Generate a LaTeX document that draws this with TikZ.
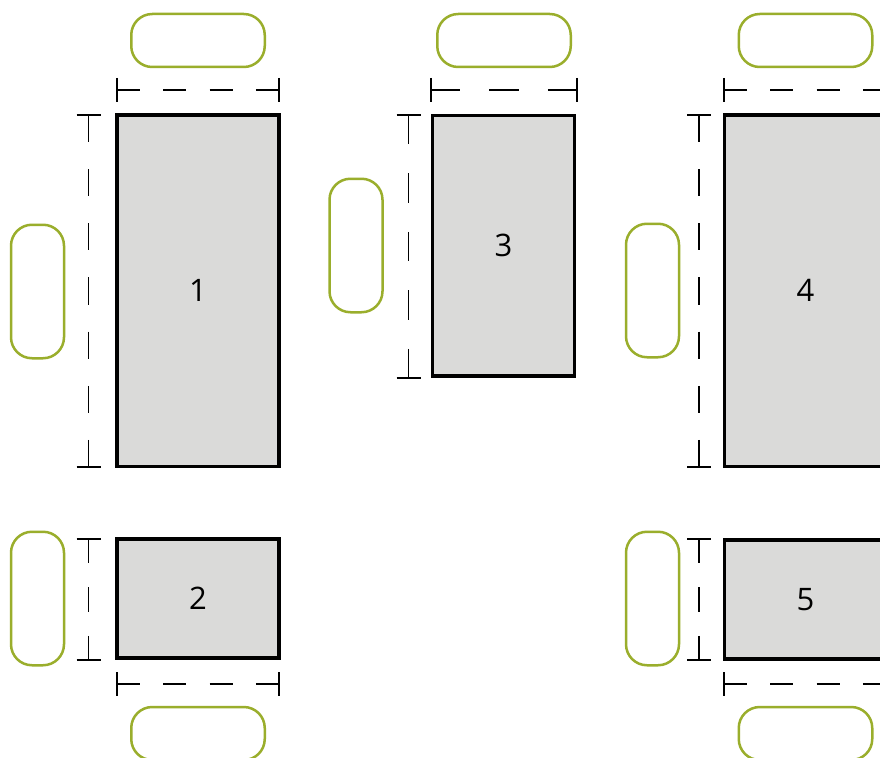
\documentclass[tikz,border=0pt]{standalone}
\usepackage{fontspec}
\setmainfont{Open Sans}
\definecolor{pillgreen}{HTML}{9AAE2C}
\definecolor{roomgrey}{HTML}{DADAD9}
\tikzset{
  room/.style={draw=black,fill=roomgrey,line width=3.6pt,inner sep=0pt,outer sep=0pt,font=\fontsize{31}{31}\selectfont,text=black},
  pill/.style={draw=pillgreen,fill=white,line width=2.5pt,rounded corners=21pt,inner sep=0pt,outer sep=0pt},
  pillh/.style={pill,minimum width=133.5pt,minimum height=53pt},
  pillv/.style={pill,minimum width=53pt,minimum height=133.5pt},
  dimline/.style={draw=black,line width=1.1pt},
  tick/.style={draw=black,line width=1.1pt}
}
% name, x1, x2, y, segment length
\newcommand{\hdim}[5]{%
  \coordinate (#1a) at (#2,#4);\coordinate (#1b) at (#3,#4);
  \coordinate (#1at) at (#2,#4-12);\coordinate (#1ab) at (#2,#4+12);
  \coordinate (#1bt) at (#3,#4-12);\coordinate (#1bb) at (#3,#4+12);
  \draw[dimline,dash pattern=on #5pt off #5pt] (#1a) -- (#1b);
  \draw[tick] (#1at) -- (#1ab);
  \draw[tick] (#1bt) -- (#1bb);}
% name, y1, y2, x, segment length
\newcommand{\vdim}[5]{%
  \coordinate (#1a) at (#4,#2);\coordinate (#1b) at (#4,#3);
  \coordinate (#1al) at (#4-12,#2);\coordinate (#1ar) at (#4+12,#2);
  \coordinate (#1bl) at (#4-12,#3);\coordinate (#1br) at (#4+12,#3);
  \draw[dimline,dash pattern=on #5pt off #5pt] (#1a) -- (#1b);
  \draw[tick] (#1al) -- (#1ar);
  \draw[tick] (#1bl) -- (#1br);}
\begin{document}
\begin{tikzpicture}[x=1pt,y=-1pt]
\useasboundingbox (0,0) rectangle (880,757);
\clip (0,0) rectangle (880,757);
\fill[white] (0,0) rectangle (880,757);
% rooms
\node[room,minimum width=161.5pt,minimum height=351.5pt] (r1) at (198,290.75) {\raisebox{1.5pt}{1}};
\node[room,minimum width=161.5pt,minimum height=119pt] (r2) at (198,598.5) {2};
\node[room,minimum width=142pt,minimum height=260.5pt] (r3) at (503.5,245.75) {3};
\node[room,minimum width=162pt,minimum height=351.5pt] (r4) at (805.5,290.75) {\raisebox{1.5pt}{4}};
\node[room,minimum width=162pt,minimum height=119pt] (r5) at (805.5,599.25) {5};
% pills
\node[pillh] (p1t) at (198,40.5) {};
\node[pillv] (p1l) at (37.5,291.5) {};
\node[pillv] (p2l) at (37.5,598.5) {};
\node[pillh] (p2b) at (198,733.5) {};
\node[pillh] (p3t) at (504,40.5) {};
\node[pillv] (p3l) at (356,245.5) {};
\node[pillh] (p4t) at (805.5,40.5) {};
\node[pillv] (p4l) at (652.5,290.5) {};
\node[pillv] (p5l) at (652.5,598.5) {};
\node[pillh] (p5b) at (805.5,733.5) {};
% dimension lines
\hdim{d1h}{117}{279}{90}{23.14}
\vdim{d1v}{115}{467}{88.5}{27.08}
\vdim{d2v}{539}{660}{88.5}{24.2}
\hdim{d2h}{117}{279}{684}{23.14}
\hdim{d3h}{431}{577}{90}{29.2}
\vdim{d3v}{115}{378}{408.5}{29.22}
\hdim{d4h}{724}{886}{90}{23.14}
\vdim{d4v}{115}{467}{699}{27.08}
\vdim{d5v}{539}{660}{699}{24.2}
\hdim{d5h}{724}{886}{684}{23.14}
\end{tikzpicture}
\end{document}
